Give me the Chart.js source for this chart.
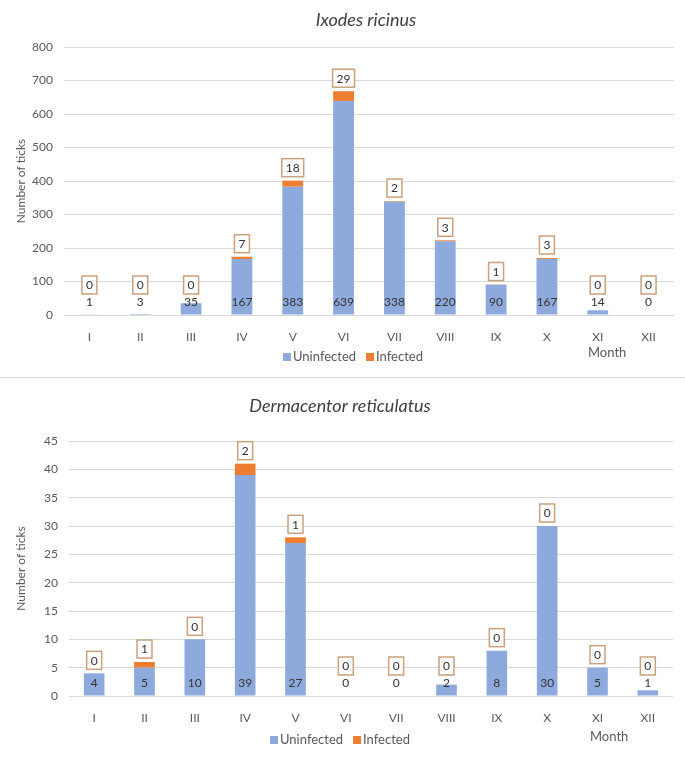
<!DOCTYPE html>
<html>
<head>
<meta charset="utf-8">
<script src="https://cdn.jsdelivr.net/npm/chart.js@4"></script>
<style>
  body { margin: 0; background: #fff; }
  .box { position: absolute; left: 0; width: 685px; }
  #top { top: 0; height: 377px; }
  #bottom { top: 378px; height: 381px; }
  #sep { position: absolute; left: 0; top: 377px; width: 685px; height: 1px; background: #d9d9d9; }
</style>
</head>
<body>
<div class="box" id="top"><canvas id="chartIxodes"></canvas></div>
<div id="sep"></div>
<div class="box" id="bottom"><canvas id="chartDerma"></canvas></div>
<script>
// data
const months = ['I', 'II', 'III', 'IV', 'V', 'VI', 'VII', 'VIII', 'IX', 'X', 'XI', 'XII'];
const ixodesUninfected = [1, 3, 35, 167, 383, 639, 338, 220, 90, 167, 14, 0];
const ixodesInfected = [0, 0, 0, 7, 18, 29, 2, 3, 1, 3, 0, 0];
const dermaUninfected = [4, 5, 10, 39, 27, 0, 0, 2, 8, 30, 5, 1];
const dermaInfected = [0, 1, 0, 2, 1, 0, 0, 0, 0, 0, 0, 0];
const seriesNames = ['Uninfected', 'Infected'];

const FONT = 'Lato, "Open Sans", sans-serif';
const BLUE = '#8eaadc';
const ORANGE = '#ed7d31';

// draws title, legend, "Month" and the data labels
const decorations = {
  id: 'decorations',
  afterDatasetsDraw(chart, args, opts) {
    const ctx = chart.ctx;
    const y = chart.scales.y;
    const base = y.getPixelForValue(0);
    const m0 = chart.getDatasetMeta(0);
    const m1 = chart.getDatasetMeta(1);
    ctx.save();
    ctx.textAlign = 'center';
    ctx.textBaseline = 'middle';
    chart.data.labels.forEach((lab, i) => {
      const x = m0.data[i].x;
      // uninfected value near the base
      ctx.fillStyle = '#333';
      ctx.font = '12px ' + FONT;
      ctx.fillText(String(chart.data.datasets[0].data[i]), x, base - 13);
      // infected value in a box above the bar
      const top = m1.data[i].y;
      const cy = Math.min(top - 13, base - 30);
      const txt = String(chart.data.datasets[1].data[i]);
      const w = ctx.measureText(txt).width + 8;
      ctx.fillStyle = '#fff';
      ctx.fillRect(x - w / 2, cy - 9, w, 18);
      ctx.strokeStyle = '#c9a27c';
      ctx.lineWidth = 1.5;
      ctx.strokeRect(x - w / 2, cy - 9, w, 18);
      ctx.fillStyle = '#333';
      ctx.fillText(txt, x, cy + 0.5);
    });

    // title
    ctx.font = 'italic 18px ' + FONT;
    ctx.fillStyle = '#404040';
    ctx.fillText(opts.title, opts.titleX, opts.titleY);

    // legend
    ctx.font = '13px ' + FONT;
    ctx.textAlign = 'left';
    let lx = opts.legendX;
    [BLUE, ORANGE].forEach((c, k) => {
      ctx.fillStyle = c;
      ctx.fillRect(lx, opts.legendY - 4, 8, 8);
      ctx.fillStyle = '#595959';
      ctx.fillText(seriesNames[k], lx + 10, opts.legendY);
      lx += 10 + ctx.measureText(seriesNames[k]).width + 10;
    });

    // axis title on the right
    ctx.fillText('Month', opts.monthX, opts.monthY);
    ctx.restore();
  }
};

function makeChart(id, unInf, inf, cfg) {
  const ctx = document.getElementById(id).getContext('2d');
  return new Chart(ctx, {
    type: 'bar',
    data: {
      labels: months,
      datasets: [
        { label: seriesNames[0], data: unInf, backgroundColor: BLUE, barPercentage: 0.41, categoryPercentage: 1 },
        { label: seriesNames[1], data: inf, backgroundColor: ORANGE, barPercentage: 0.41, categoryPercentage: 1 }
      ]
    },
    options: {
      responsive: true,
      maintainAspectRatio: false,
      animation: false,
      layout: { padding: cfg.padding },
      plugins: {
        legend: { display: false },
        tooltip: { enabled: false },
        decorations: cfg.deco
      },
      scales: {
        x: {
          stacked: true,
          grid: { display: false },
          border: { display: false },
          ticks: { color: '#595959', font: { family: FONT, size: 12 }, padding: 7 },
          afterFit: s => { s.height = 40; }
        },
        y: {
          stacked: true,
          min: 0,
          max: cfg.max,
          ticks: { stepSize: cfg.step, color: '#595959', font: { family: FONT, size: 12 }, padding: 11 },
          grid: { color: '#d9d9d9', drawTicks: false },
          border: { display: false },
          title: { display: true, text: 'Number of ticks', color: '#595959', font: { family: FONT, size: 12 }, padding: { top: 14, bottom: 0 } },
          afterFit: s => { s.width = cfg.yWidth; }
        }
      }
    },
    plugins: [decorations]
  });
}

makeChart('chartIxodes', ixodesUninfected, ixodesInfected, {
  max: 800, step: 100, yWidth: 64,
  padding: { top: 47, right: 11, bottom: 22, left: 0 },
  deco: { title: 'Ixodes ricinus', titleX: 366, titleY: 20, legendX: 283, legendY: 357, monthX: 588, monthY: 353 }
});

makeChart('chartDerma', dermaUninfected, dermaInfected, {
  max: 45, step: 5, yWidth: 69,
  padding: { top: 63, right: 12, bottom: 23, left: 0 },
  deco: { title: 'Dermacentor reticulatus', titleX: 340, titleY: 28, legendX: 270, legendY: 362, monthX: 590, monthY: 359 }
});
</script>
</body>
</html>
